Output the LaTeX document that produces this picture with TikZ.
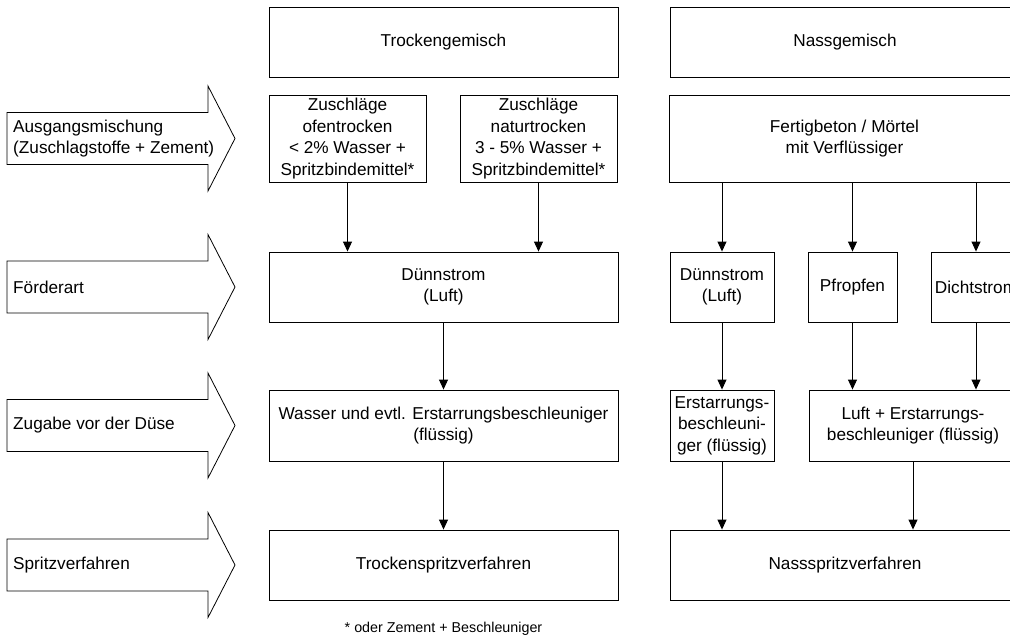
\documentclass[tikz,border=0pt]{standalone}
\usepackage{fontspec}
\setmainfont{Liberation Sans}
\usetikzlibrary{arrows.meta}
\newcommand\rowarrow[3]{%
  \draw[bigarrow] (7,#2-26) -- (208,#2-26) -- (208,#2-52.5) -- (235,#2)
    -- (208,#2+52.5) -- (208,#2+26) -- (7,#2+26) -- cycle;
  \node[arrowtext] (#1) at (13,#2) {#3};}
\begin{document}
\begin{tikzpicture}[x=1pt,y=-1pt,
  box/.style={draw=black,line width=0.9pt,inner sep=0pt,align=center,
    font=\fontsize{17.2}{21.5}\selectfont},
  arr/.style={-{Triangle[width=9pt,length=10pt]},line width=0.9pt},
  bigarrow/.style={draw=black,line width=0.8pt},
  arrowtext/.style={anchor=west,align=left,inner sep=0pt,
    font=\fontsize{17.2}{21.5}\selectfont},
  note/.style={inner sep=0pt,font=\fontsize{14.3}{17}\selectfont}]
\useasboundingbox (0,0) rectangle (1010,641);
\clip (0,0) rectangle (1010,641);

% left row arrows
\rowarrow{a1}{138.5}{Ausgangsmischung\\(Zuschlagstoffe + Zement)}
\rowarrow{a2}{287}{Förderart}
\rowarrow{a3}{425.5}{Zugabe vor der Düse}
\rowarrow{a4}{565}{Spritzverfahren}

% header boxes
\node[box,minimum width=349pt,minimum height=70pt] (tg) at (443.5,42) {Trockengemisch};
\node[box,minimum width=350pt,minimum height=70pt] (ng) at (845,42) {Nassgemisch};

% row 1
\node[box,minimum width=157pt,minimum height=87pt] (zo) at (347.5,138.5)
  {Zuschläge\\ofentrocken\\< 2\% Wasser +\\Spritzbindemittel*};
\node[box,minimum width=157pt,minimum height=87pt] (zn) at (538.5,138.5)
  {Zuschläge\\naturtrocken\\3 - 5\% Wasser +\\Spritzbindemittel*};
\node[box,minimum width=351pt,minimum height=87pt] (fb) at (844.5,138.5)
  {Fertigbeton / Mörtel\\mit Verflüssiger};

% row 2
\node[box,minimum width=349pt,minimum height=70pt] (dl) at (443.5,287) {Dünnstrom\\(Luft)};
\node[box,minimum width=104pt,minimum height=70pt] (dn) at (722,287) {Dünnstrom\\(Luft)};
\node[box,minimum width=89pt,minimum height=70pt] (pf) at (852.5,287) {Pfropfen};
\node[box,minimum width=90pt,minimum height=70pt] (ds) at (976,287) {Dichtstrom};

% row 3
\node[box,minimum width=349pt,minimum height=71pt] (wa) at (443.5,425.5)
  {Wasser und evtl. Erstarrungsbeschleuniger\\(flüssig)};
\node[box,minimum width=104pt,minimum height=71pt] (er) at (722,425.5)
  {Erstarrungs-\\beschleuni-\\ger (flüssig)};
\node[box,minimum width=208pt,minimum height=71pt] (lu) at (913,425.5)
  {Luft + Erstarrungs-\\beschleuniger (flüssig)};

% row 4
\node[box,minimum width=349pt,minimum height=70pt] (ts) at (443.5,565) {Trockenspritzverfahren};
\node[box,minimum width=350pt,minimum height=70pt] (ns) at (845,565) {Nassspritzverfahren};

\node[note] (fn) at (443.5,629) {* oder Zement + Beschleuniger};

% connectors
\draw[arr] (zo.south) -- (zo.south |- dl.north);
\draw[arr] (zn.south) -- (zn.south |- dl.north);
\draw[arr] (dl.south) -- (wa.north);
\draw[arr] (wa.south) -- (ts.north);
\draw[arr] (fb.south -| dn.north) -- (dn.north);
\draw[arr] (fb.south -| pf.north) -- (pf.north);
\draw[arr] (fb.south -| ds.north) -- (ds.north);
\draw[arr] (dn.south) -- (er.north);
\draw[arr] (pf.south) -- (pf.south |- lu.north);
\draw[arr] (ds.south) -- (ds.south |- lu.north);
\draw[arr] (er.south) -- (er.south |- ns.north);
\draw[arr] (lu.south) -- (lu.south |- ns.north);
\end{tikzpicture}
\end{document}
